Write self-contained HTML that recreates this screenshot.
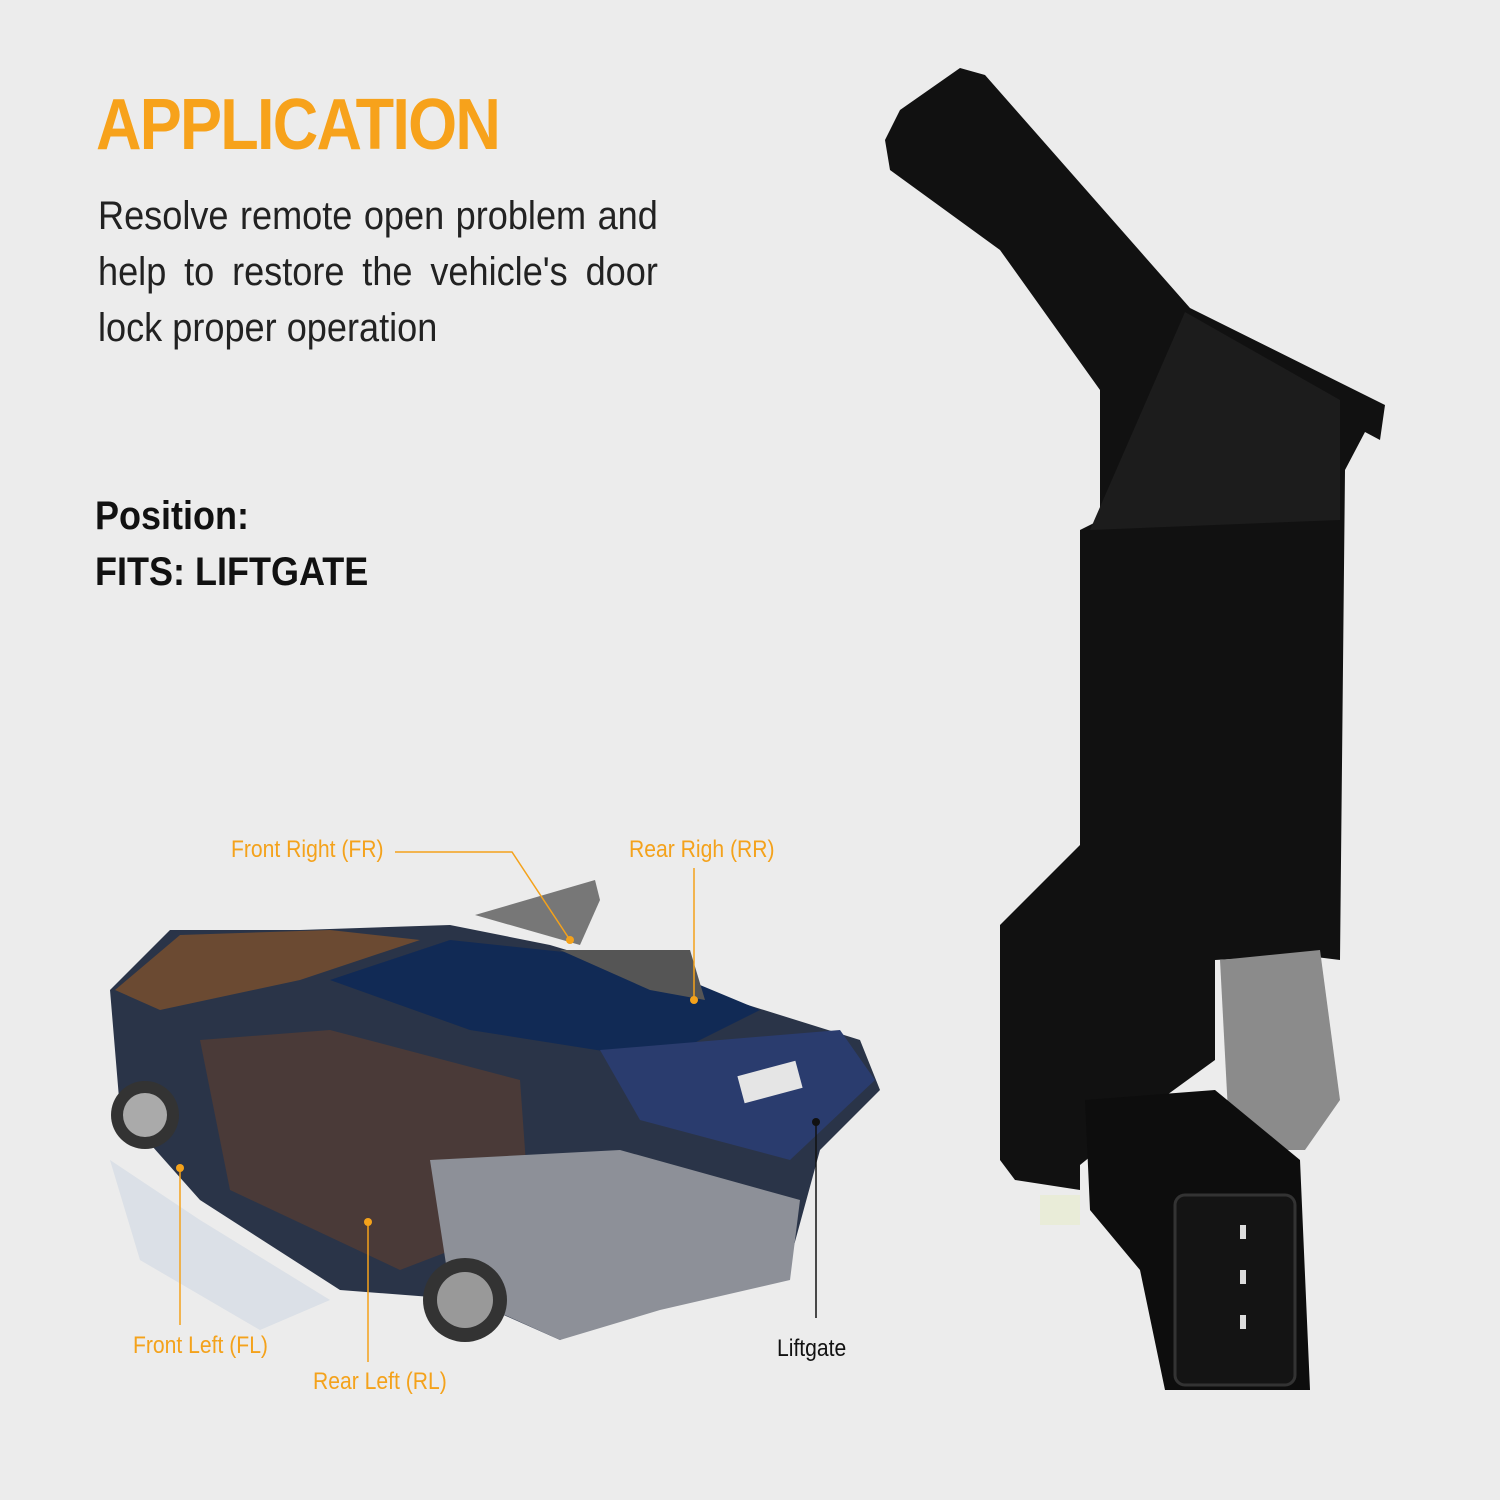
<!DOCTYPE html>
<html><head><meta charset="utf-8"><style>
html,body{margin:0;padding:0}
body{width:1500px;height:1500px;background:#ececec;position:relative;overflow:hidden;font-family:"Liberation Sans",sans-serif}
.t{position:absolute;white-space:nowrap}
.j{position:absolute;width:620px;font-size:40px;line-height:56px;color:#222;transform:scaleX(0.903);transform-origin:left;text-align:justify;text-align-last:left}
.j div{text-align:justify;text-align-last:justify;height:56px}
</style></head><body>
<div class="t" style="left:96px;top:84px;font-size:72px;font-weight:bold;color:#f7a21b;letter-spacing:-2px;transform:scaleX(0.875);transform-origin:left">APPLICATION</div>
<div class="j" style="left:98px;top:188px"><div>Resolve remote open problem and</div><div>help to restore the vehicle's door</div><div style="text-align-last:left">lock proper operation</div></div>
<div class="t" style="left:95px;top:488px;font-size:40px;font-weight:bold;color:#111;line-height:56px;transform:scaleX(0.9);transform-origin:left">Position:<br>FITS: LIFTGATE</div>

<svg width="1500" height="1500" style="position:absolute;left:0;top:0">
<polygon fill="#111" points="885,140 900,110 960,68 985,75 1190,308 1385,405 1380,440 1365,432 1345,470 1340,960 1300,955 1215,960 1215,1060 1160,1100 1080,1165 1080,1190 1015,1180 1000,1160 1000,925 1080,845 1080,530 1100,520 1100,390 1000,250 890,170"/>
<polygon fill="#1c1c1c" points="1090,530 1185,312 1340,400 1340,520"/>
<polygon fill="#8b8b8b" points="1220,960 1320,950 1340,1100 1305,1150 1230,1150"/>
<rect x="1040" y="1195" width="40" height="30" fill="#e9ecd8"/>
<polygon fill="#0d0d0d" points="1085,1100 1215,1090 1300,1160 1310,1390 1165,1390 1140,1270 1090,1210"/>
<rect x="1175" y="1195" width="120" height="190" rx="10" fill="#141414" stroke="#333" stroke-width="3"/>
<rect x="1240" y="1225" width="6" height="14" fill="#ddd"/>
<rect x="1240" y="1270" width="6" height="14" fill="#ddd"/>
<rect x="1240" y="1315" width="6" height="14" fill="#ddd"/>
<polygon fill="#2a3448" points="110,990 170,930 300,930 450,925 550,945 700,990 860,1040 880,1090 820,1150 790,1260 650,1300 560,1340 470,1300 340,1290 200,1200 120,1110"/>
<polygon fill="#6b4a32" points="115,990 180,935 330,930 420,940 300,980 160,1010"/>
<polygon fill="#112a55" points="330,980 450,940 640,960 760,1010 660,1060 470,1030"/>
<polygon fill="#2a3c6e" points="600,1050 840,1030 875,1080 790,1160 640,1120"/>
<rect x="740" y="1068" width="60" height="28" fill="#e5e5e5" transform="rotate(-15 770 1082)"/>
<polygon fill="#4a3a38" points="200,1040 330,1030 520,1080 530,1220 400,1270 230,1190"/>
<polygon fill="#8d9098" points="430,1160 620,1150 800,1200 790,1280 660,1310 560,1340 450,1290"/>
<circle cx="145" cy="1115" r="34" fill="#333"/><circle cx="145" cy="1115" r="22" fill="#aaa"/>
<circle cx="465" cy="1300" r="42" fill="#333"/><circle cx="465" cy="1300" r="28" fill="#999"/>
<polygon fill="#c9d4e2" opacity="0.5" points="110,1160 200,1220 330,1300 260,1330 140,1260"/>
<polygon fill="#777" points="475,915 595,880 600,900 580,945"/>
<polygon fill="#555" points="560,950 690,950 705,1000 650,990"/>
<g stroke="#f4a21b" stroke-width="1.5" fill="none">
<polyline points="395,852 512,852 570,940"/>
<line x1="694" y1="868" x2="694" y2="1000"/>
<line x1="180" y1="1168" x2="180" y2="1325"/>
<line x1="368" y1="1222" x2="368" y2="1362"/>
</g>
<line x1="816" y1="1122" x2="816" y2="1318" stroke="#111" stroke-width="1.5"/>
<g fill="#f4a21b"><circle cx="570" cy="940" r="4"/><circle cx="694" cy="1000" r="4"/><circle cx="180" cy="1168" r="4"/><circle cx="368" cy="1222" r="4"/></g>
<circle cx="816" cy="1122" r="4" fill="#111"/>
</svg>
<div class="t" style="left:231px;top:836px;font-size:24px;color:#f4a21b;transform:scaleX(0.88);transform-origin:left">Front Right (FR)</div>
<div class="t" style="left:629px;top:836px;font-size:24px;color:#f4a21b;transform:scaleX(0.88);transform-origin:left">Rear Righ (RR)</div>
<div class="t" style="left:133px;top:1332px;font-size:24px;color:#f4a21b;transform:scaleX(0.88);transform-origin:left">Front Left (FL)</div>
<div class="t" style="left:313px;top:1368px;font-size:24px;color:#f4a21b;transform:scaleX(0.88);transform-origin:left">Rear Left (RL)</div>
<div class="t" style="left:777px;top:1335px;font-size:24px;color:#111;transform:scaleX(0.88);transform-origin:left">Liftgate</div>
</body></html>
